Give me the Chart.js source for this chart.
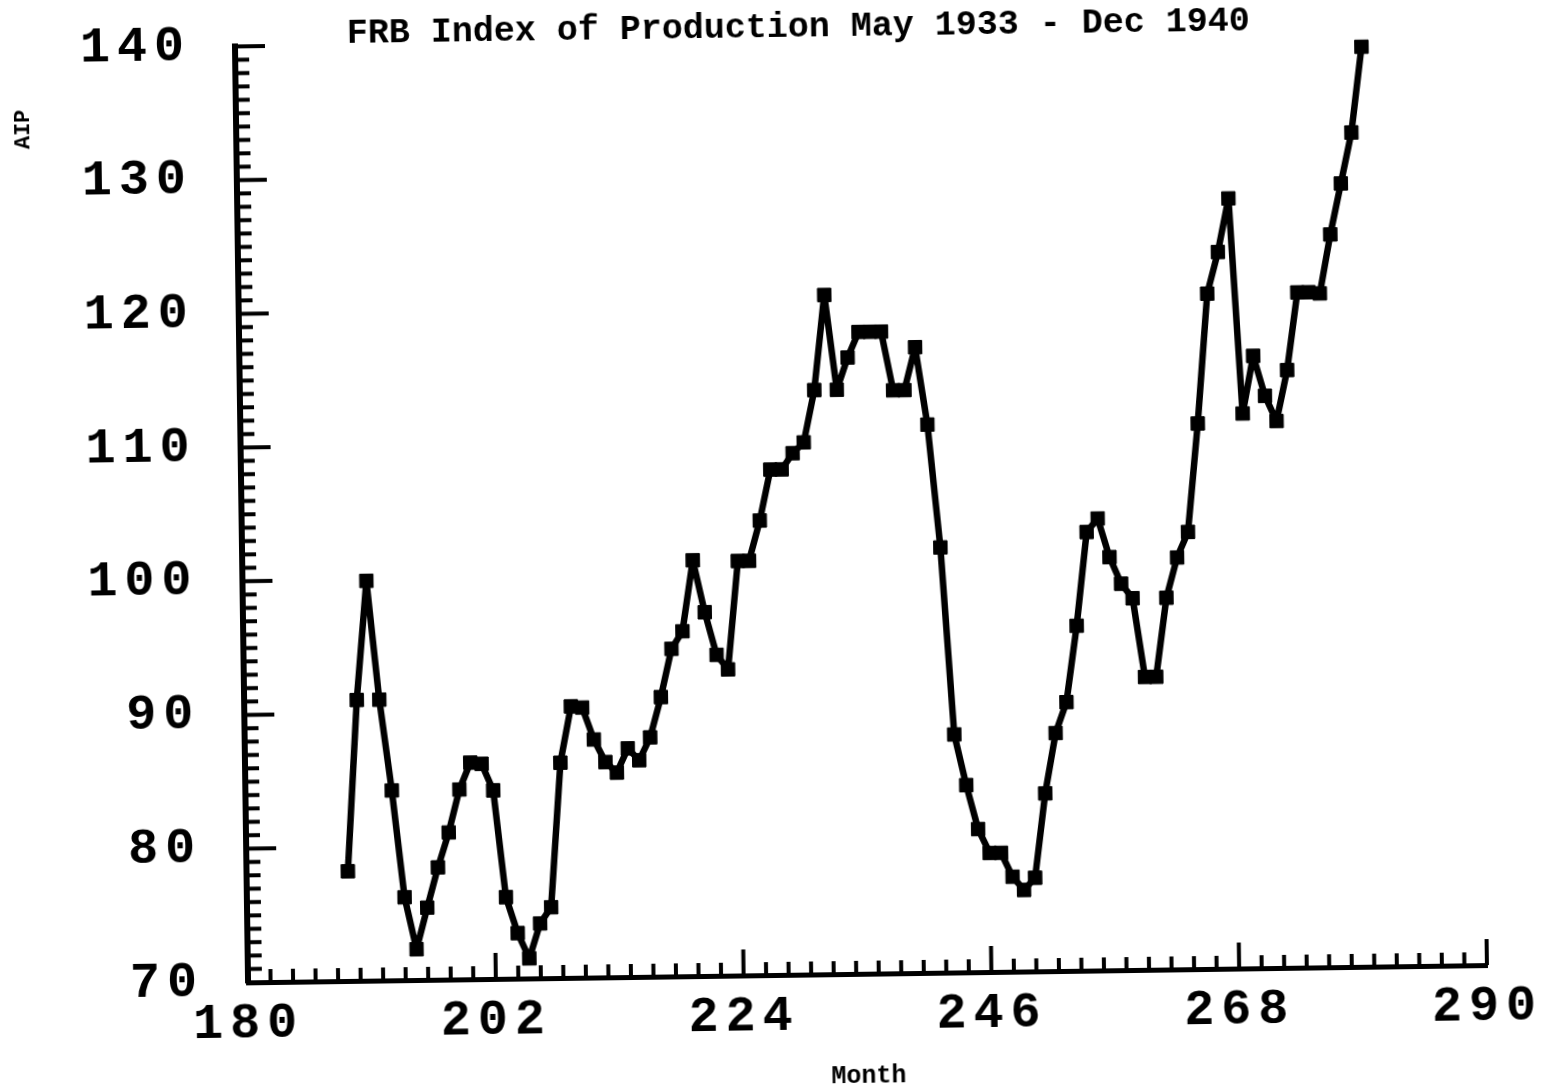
<!DOCTYPE html>
<html>
<head>
<meta charset="utf-8">
<script src="https://cdn.jsdelivr.net/npm/chart.js@4.4.1/dist/chart.umd.min.js"></script>
<style>
  html, body { margin: 0; padding: 0; background: #fff; overflow: hidden; width: 1547px; height: 1090px; }
  #wrap { position: absolute; left: 0; top: 0; width: 1610px; height: 1090px;
          transform: rotate(-0.8deg); transform-origin: 773px 545px; }
  canvas { display: block; }
</style>
</head>
<body>
<div id="wrap"><canvas id="c" width="1610" height="1090"></canvas></div>
<script>
// ---------------- data ----------------
const TITLE = 'FRB Index of Production May 1933 - Dec 1940';
const X_TITLE = 'Month';
const Y_TITLE = 'AIP';

// month index (May 1933 ... Dec 1940)
const months = [
  189, 190, 191, 192, 193, 194, 195, 196,
  197, 198, 199, 200, 201, 202, 203, 204, 205, 206, 207, 208,
  209, 210, 211, 212, 213, 214, 215, 216, 217, 218, 219, 220,
  221, 222, 223, 224, 225, 226, 227, 228, 229, 230, 231, 232,
  233, 234, 235, 236, 237, 238, 239, 240, 241, 242, 243, 244,
  245, 246, 247, 248, 249, 250, 251, 252, 253, 254, 255, 256,
  257, 258, 259, 260, 261, 262, 263, 264, 265, 266, 267, 268,
  269, 270, 271, 272, 273, 274, 275, 276, 277, 278, 279, 280
];

// AIP values
const aip = [
  78.2, 91.0, 99.9, 91.0, 84.2, 76.2, 72.3, 75.4,
  78.4, 81.0, 84.2, 86.2, 86.1, 84.1, 76.1, 73.4, 71.5, 74.1, 75.3, 86.1,
  90.3, 90.2, 87.8, 86.1, 85.3, 87.1, 86.2, 87.9, 90.9, 94.5, 95.8, 101.1,
  97.2, 94.0, 92.9, 101.0, 101.0, 104.0, 107.8, 107.8, 109.0, 109.8, 113.7, 120.8,
  113.7, 116.1, 118.0, 118.0, 118.0, 113.6, 113.6, 116.8, 111.0, 101.8, 87.8, 84.0,
  80.7, 78.9, 78.9, 77.1, 76.1, 77.0, 83.3, 87.8, 90.1, 95.8, 102.8, 103.8,
  100.9, 98.9, 97.8, 91.9, 91.9, 97.8, 100.8, 102.7, 110.8, 120.5, 123.6, 127.6,
  111.5, 115.8, 112.8, 110.9, 114.7, 120.5, 120.5, 120.4, 124.8, 128.6, 132.4, 138.8
];

const xTickLabels = [180, 202, 224, 246, 268, 290];
const yTickLabels = [70, 80, 90, 100, 110, 120, 130, 140];
const X_MINOR_STEP = 2;
const Y_MINOR_STEP = 1;

// ---------------- styling helpers ----------------
const FONT = '"Liberation Mono", "DejaVu Sans Mono", monospace';
const LABEL_SPACING = 7;

class SpacedLinearScale extends Chart.LinearScale {
  getPadding() { return { left: 0, top: 0, right: 0, bottom: 0 }; }
  _computeLabelArea() { return undefined; }
  drawLabels(area) {
    const ctx = this.ctx;
    ctx.save();
    try { ctx.letterSpacing = LABEL_SPACING + 'px'; } catch (e) {}
    super.drawLabels(area);
    ctx.restore();
  }
}
SpacedLinearScale.id = 'spacedLinear';
Chart.register(SpacedLinearScale);

const tickMarks = {
  id: 'tickMarks',
  beforeDatasetsDraw(chart) {
    const { ctx, chartArea, scales: { x, y } } = chart;
    ctx.save();
    ctx.strokeStyle = '#000';
    ctx.lineWidth = 4;
    ctx.lineCap = 'butt';
    const x0 = xTickLabels[0], x1 = xTickLabels[xTickLabels.length - 1];
    const xMajor = xTickLabels[1] - xTickLabels[0];
    for (let v = x0; v <= x1 + 1e-9; v += X_MINOR_STEP) {
      const px = x.getPixelForValue(v);
      const major = Math.abs(((v - x0) / xMajor) - Math.round((v - x0) / xMajor)) < 1e-6;
      const len = major ? 26 : 13;
      ctx.beginPath();
      ctx.moveTo(px, chartArea.bottom);
      ctx.lineTo(px, chartArea.bottom - len);
      ctx.stroke();
    }
    const y0 = yTickLabels[0], y1 = yTickLabels[yTickLabels.length - 1];
    const yMajor = yTickLabels[1] - yTickLabels[0];
    for (let v = y0; v <= y1 + 1e-9; v += Y_MINOR_STEP) {
      const py = y.getPixelForValue(v);
      const major = Math.abs(((v - y0) / yMajor) - Math.round((v - y0) / yMajor)) < 1e-6;
      const len = major ? 30 : 14;
      ctx.beginPath();
      ctx.moveTo(chartArea.left, py);
      ctx.lineTo(chartArea.left + len, py);
      ctx.stroke();
    }
    ctx.restore();
  }
};

const yAxisTitle = {
  id: 'yAxisTitle',
  afterDraw(chart) {
    const ctx = chart.ctx;
    ctx.save();
    ctx.translate(29, 119);
    ctx.rotate(-Math.PI / 2);
    ctx.font = 'bold 22px ' + FONT;
    ctx.fillStyle = '#000';
    ctx.textAlign = 'center';
    ctx.textBaseline = 'middle';
    ctx.fillText(Y_TITLE, 0, 0);
    ctx.restore();
  }
};

Chart.defaults.font.family = FONT;
Chart.defaults.color = '#000';

new Chart(document.getElementById('c'), {
  type: 'line',
  data: {
    datasets: [{
      label: Y_TITLE,
      data: months.map((m, i) => ({ x: m, y: aip[i] })),
      borderColor: '#000',
      backgroundColor: '#000',
      borderWidth: 6.5,
      borderJoinStyle: 'round',
      tension: 0,
      pointStyle: 'rect',
      pointRadius: 9.5,
      pointBorderWidth: 1,
      pointBackgroundColor: '#000',
      pointBorderColor: '#000',
      clip: false
    }]
  },
  options: {
    responsive: false,
    animation: false,
    events: [],
    layout: { autoPadding: false, padding: { left: 130, right: 129, top: 0, bottom: 0 } },
    plugins: {
      legend: { display: false },
      tooltip: { enabled: false },
      title: {
        display: true,
        text: TITLE,
        color: '#000',
        font: { family: FONT, size: 35, weight: 'bold', lineHeight: 0.8 },
        padding: { top: 14, bottom: -3 }
      }
    },
    scales: {
      x: {
        type: 'spacedLinear',
        min: xTickLabels[0],
        max: xTickLabels[xTickLabels.length - 1],
        afterBuildTicks: (s) => { s.ticks = xTickLabels.map(v => ({ value: v })); },
        afterFit: (s) => { s.height = 115; },
        grid: { display: true, drawOnChartArea: false, drawTicks: false, color: '#000' },
        border: { display: true, width: 5, color: '#000' },
        ticks: {
          autoSkip: false, maxRotation: 0, minRotation: 0, padding: 12,
          color: '#000',
          font: { family: FONT, size: 50, weight: 'bold' }
        },
        title: {
          display: true, text: X_TITLE, color: '#000',
          font: { family: FONT, size: 25, weight: 'bold' },
          padding: { top: 0, bottom: -3 }
        }
      },
      y: {
        type: 'spacedLinear',
        min: yTickLabels[0],
        max: yTickLabels[yTickLabels.length - 1],
        afterBuildTicks: (s) => { s.ticks = yTickLabels.map(v => ({ value: v })); },
        afterFit: (s) => { s.width = 112; },
        grid: { display: true, drawOnChartArea: false, drawTicks: false, color: '#000' },
        border: { display: true, width: 6, color: '#000' },
        ticks: {
          autoSkip: false, padding: 44,
          color: '#000',
          font: { family: FONT, size: 50, weight: 'bold' }
        }
      }
    }
  },
  plugins: [tickMarks, yAxisTitle]
});
</script>
</body>
</html>
